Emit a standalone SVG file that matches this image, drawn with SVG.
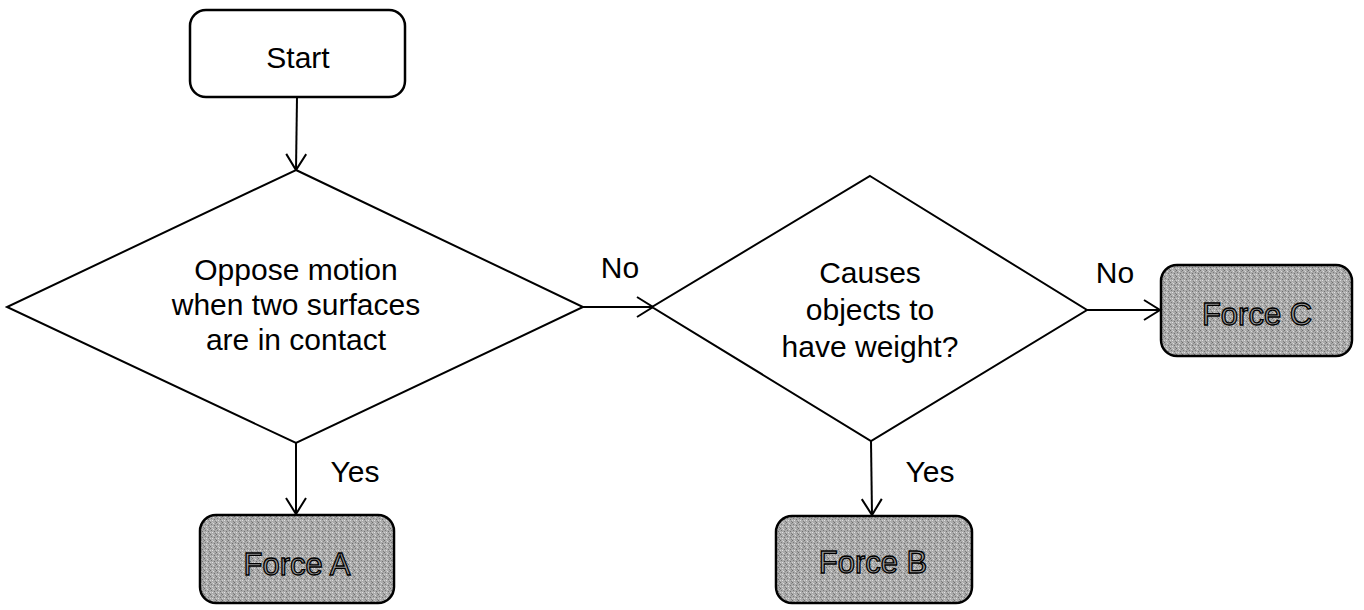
<svg xmlns="http://www.w3.org/2000/svg" width="1364" height="610" viewBox="0 0 1364 610">
<style>
.t{font-family:"Liberation Sans",Arial,sans-serif;font-size:30px;fill:#000;text-anchor:middle}
.f{font-family:"Liberation Sans",Arial,sans-serif;font-size:31px;fill:#9c9c9c;stroke:#000;stroke-width:1.3;text-anchor:middle}
.box{fill:#fff;stroke:#000;stroke-width:2.5}
.gbox{fill:url(#noise);stroke:#000;stroke-width:2.5}
.dia{fill:#fff;stroke:#000;stroke-width:2}
.c{fill:none;stroke:#000;stroke-width:2}
</style>
<defs>
<pattern id="noise" width="6" height="6" patternUnits="userSpaceOnUse">
<rect width="6" height="6" fill="#ababab"/>
<rect x="0" y="0" width="1" height="1" fill="#6e6e6e"/>
<rect x="3" y="1" width="1" height="1" fill="#dcdcdc"/>
<rect x="1" y="2" width="1" height="1" fill="#7a7a7a"/>
<rect x="4" y="3" width="1" height="1" fill="#707070"/>
<rect x="2" y="4" width="1" height="1" fill="#e0e0e0"/>
<rect x="5" y="5" width="1" height="1" fill="#808080"/>
<rect x="0" y="4" width="1" height="1" fill="#cfcfcf"/>
<rect x="5" y="1" width="1" height="1" fill="#8a8a8a"/>
<rect x="2" y="0" width="1" height="1" fill="#c8c8c8"/>
</pattern>
<marker id="arr" markerWidth="20" markerHeight="24" refX="17" refY="11" orient="auto" markerUnits="userSpaceOnUse">
<path d="M1,1 L17,11 L1,21" fill="none" stroke="#000" stroke-width="2"/>
</marker>
</defs>

<g id="connectors">
<line class="c" x1="297" y1="97" x2="296" y2="170" marker-end="url(#arr)"/>
<line class="c" x1="583" y1="307" x2="653" y2="307" marker-end="url(#arr)"/>
<line class="c" x1="296" y1="443" x2="296" y2="514" marker-end="url(#arr)"/>
<line class="c" x1="871" y1="441" x2="872" y2="515" marker-end="url(#arr)"/>
<line class="c" x1="1087" y1="310" x2="1160" y2="310" marker-end="url(#arr)"/>
<text class="t" x="620" y="278">No</text>
<text class="t" x="1115" y="283">No</text>
<text class="t" x="355" y="482">Yes</text>
<text class="t" x="930" y="482">Yes</text>
</g>

<g id="start">
<rect class="box" x="190" y="10" width="215" height="87" rx="16"/>
<text class="t" x="298" y="68">Start</text>
</g>

<g id="decision1">
<polygon class="dia" points="296,170 583,307 296,443 7,307"/>
<text class="t" x="296" y="280">Oppose motion</text>
<text class="t" x="296" y="315">when two surfaces</text>
<text class="t" x="296" y="350">are in contact</text>
</g>

<g id="decision2">
<polygon class="dia" points="870,176 1087,310 871,441 652,307"/>
<text class="t" x="870" y="283">Causes</text>
<text class="t" x="870" y="320">objects to</text>
<text class="t" x="870" y="357">have weight?</text>
</g>

<g id="forceA">
<rect class="gbox" x="200" y="515" width="194" height="88" rx="16"/>
<text class="f" x="297" y="575">Force A</text>
</g>

<g id="forceB">
<rect class="gbox" x="776" y="516" width="196" height="87" rx="16"/>
<text class="f" x="873" y="573">Force B</text>
</g>

<g id="forceC">
<rect class="gbox" x="1161" y="265" width="191" height="91" rx="16"/>
<text class="f" x="1257" y="325">Force C</text>
</g>
</svg>
